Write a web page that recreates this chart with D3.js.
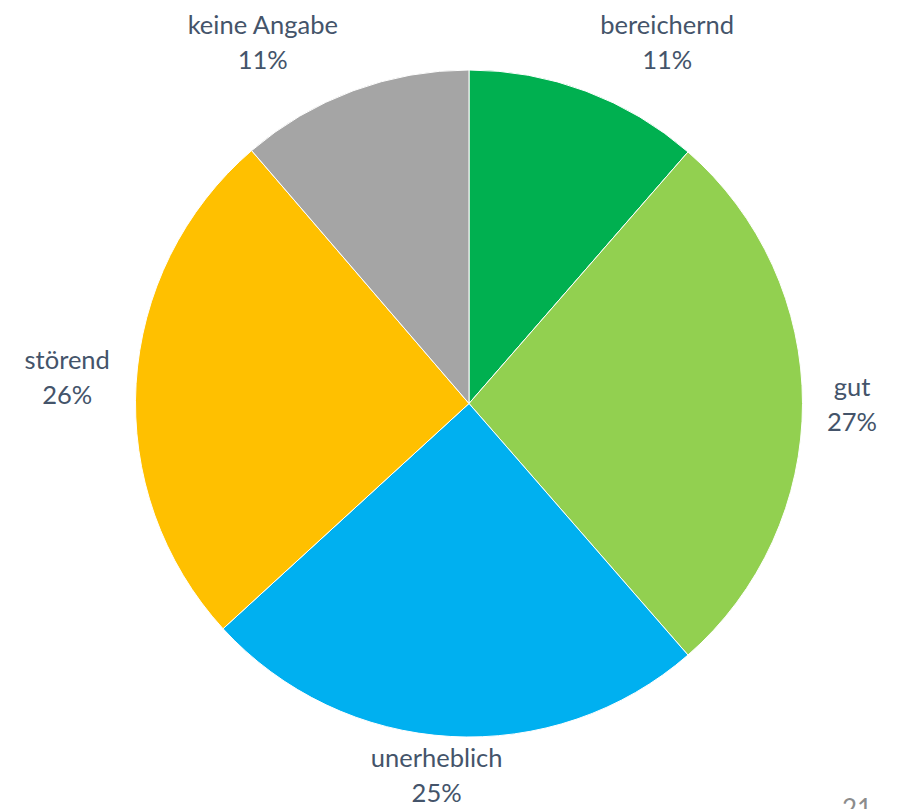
<!DOCTYPE html>
<html>
<head>
<meta charset="utf-8">
<script src="https://cdn.jsdelivr.net/npm/d3@7"></script>
<style>
  body { margin: 0; background: #fff; }
  svg { display: block; }
</style>
</head>
<body>
<script>
const categories = ["bereichernd", "gut", "unerheblich", "störend", "keine Angabe"];
const values = [11.4, 27.2, 24.6, 25.5, 11.3];
const labels = ["11%", "27%", "25%", "26%", "11%"];
const colors = ["#00b050", "#92d050", "#00b0f0", "#ffc000", "#a5a5a5"];

const width = 897, height = 809;
const cx = 469, cy = 403.5, radius = 333.5;

const svg = d3.select("body").append("svg")
    .attr("width", width)
    .attr("height", height);

const pie = d3.pie().sort(null).value(d => d.value);
const arc = d3.arc().innerRadius(0).outerRadius(radius);

const data = categories.map((c, i) => ({ name: c, value: values[i], label: labels[i], color: colors[i] }));
const arcs = pie(data);

const g = svg.append("g").attr("transform", `translate(${cx},${cy})`);

g.selectAll("path")
  .data(arcs)
  .enter().append("path")
  .attr("d", arc)
  .attr("fill", d => d.data.color)
  .attr("stroke", "#fff")
  .attr("stroke-width", 1);

// outside-end labels
const lab = g.selectAll(".lab")
  .data(arcs)
  .enter().append("text")
  .attr("class", "lab")
  .attr("text-anchor", "middle")
  .style("font-family", "Lato, 'Open Sans', sans-serif")
  .style("font-size", "25.5px")
  .style("fill", "#44546a");

lab.append("tspan").attr("x", 0).attr("dy", 0).text(d => d.data.name);
lab.append("tspan").attr("x", 0).attr("dy", 35).text(d => d.data.label);

const clamp = v => Math.max(-1, Math.min(1, v));
lab.each(function(d) {
  const a = (d.startAngle + d.endAngle) / 2;
  const dx = Math.sin(a), dy = -Math.cos(a);
  const bb = this.getBBox();
  const px = (radius + 22) * dx, py = (radius + 12) * dy - 6 * Math.abs(dy);
  const bx = px + clamp(dx * 3) * bb.width * 0.55;
  const by = py + clamp(dy * 3) * bb.height / 2;
  // shift so bbox centre sits at (bx, by)
  const ox = bx - (bb.x + bb.width / 2);
  const oy = by - (bb.y + bb.height / 2);
  d3.select(this).attr("transform", `translate(${ox},${oy})`);
});

// page number (cut by the bottom edge, as in the slide)
svg.append("text")
  .attr("x", 857)
  .attr("y", 818)
  .attr("text-anchor", "middle")
  .style("font-family", "Lato, sans-serif")
  .style("font-size", "26px")
  .style("fill", "#8c8c8c")
  .text("21");
</script>
</body>
</html>
